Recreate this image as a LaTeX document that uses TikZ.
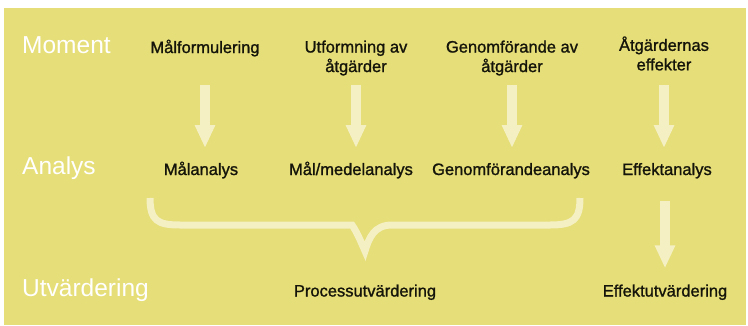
\documentclass[tikz,border=0pt]{standalone}
\usepackage{fontspec}
\setmainfont{Liberation Sans}
\newfontfamily\stegfont[FakeBold=1.2]{Liberation Sans}
\usetikzlibrary{arrows.meta}
\definecolor{gul}{RGB}{230,222,120}
\definecolor{ljus}{RGB}{244,240,196}
\definecolor{svart}{RGB}{20,20,10}

\begin{document}
\begin{tikzpicture}[x=1pt, y=-1pt,
		rubrik/.style={text=white, font=\fontsize{24.5}{28}\selectfont, anchor=base west, inner sep=0pt},
		steg/.style={text=svart, font=\stegfont\fontsize{16.5}{19.5}\selectfont, align=center, inner sep=0pt},
		pil/.style={line width=10pt, ljus, -{Triangle[width=19pt, length=23pt]}},
		klammer/.style={line width=7pt, ljus, line join=miter}]
		\useasboundingbox (0,0) rectangle (748,325);
		\fill[gul] (4,8) rectangle (746,325);
		
		% rader
		\node[rubrik] (moment) at (22,53) {Moment};
		\node[rubrik] (analys) at (22,174) {Analys};
		\node[rubrik] (utv) at (22,296) {Utvärdering};
		
		% moment
		\node[steg, anchor=base] (m1) at (205,53) {Målformulering};
		\node[steg] (m2) at (356,58) {Utformning av\\åtgärder};
		\node[steg] (m3) at (512,58) {Genomförande av\\åtgärder};
		\node[steg] (m4) at (664,53.5) {Åtgärdernas\\effekter};
		
		% analys
		\node[steg, anchor=base] (a1) at (201,175) {Målanalys};
		\node[steg, anchor=base] (a2) at (351,175) {Mål/medelanalys};
		\node[steg, anchor=base] (a3) at (511,175) {Genomförandeanalys};
		\node[steg, anchor=base] (a4) at (667,175) {Effektanalys};
		
		% utvardering
		\node[steg, anchor=base] (u1) at (365,296.5) {Processutvärdering};
		\node[steg, anchor=base] (u2) at (665,296.5) {Effektutvärdering};
		
		\coordinate (pilstart) at (0,85);
		\coordinate (pilslut) at (0,148);
		\foreach \n in {m1,m2,m3,m4}
			\draw[pil] (\n |- pilstart) -- (\n |- pilslut);
		\draw[pil, shorten <=22pt, shorten >=16pt] (u2 |- a4.south) -- (u2.north);
		
		\draw[klammer] (150,198) .. controls (150,221) and (158,225) .. (180,225) -- (352,225)
			.. controls (357,232) and (361,242) .. (365,251) .. controls (369,238) and (374,225) .. (392,225)
			-- (550,225) .. controls (573,225) and (580,220) .. (580,198);
	\end{tikzpicture}
\end{document}
